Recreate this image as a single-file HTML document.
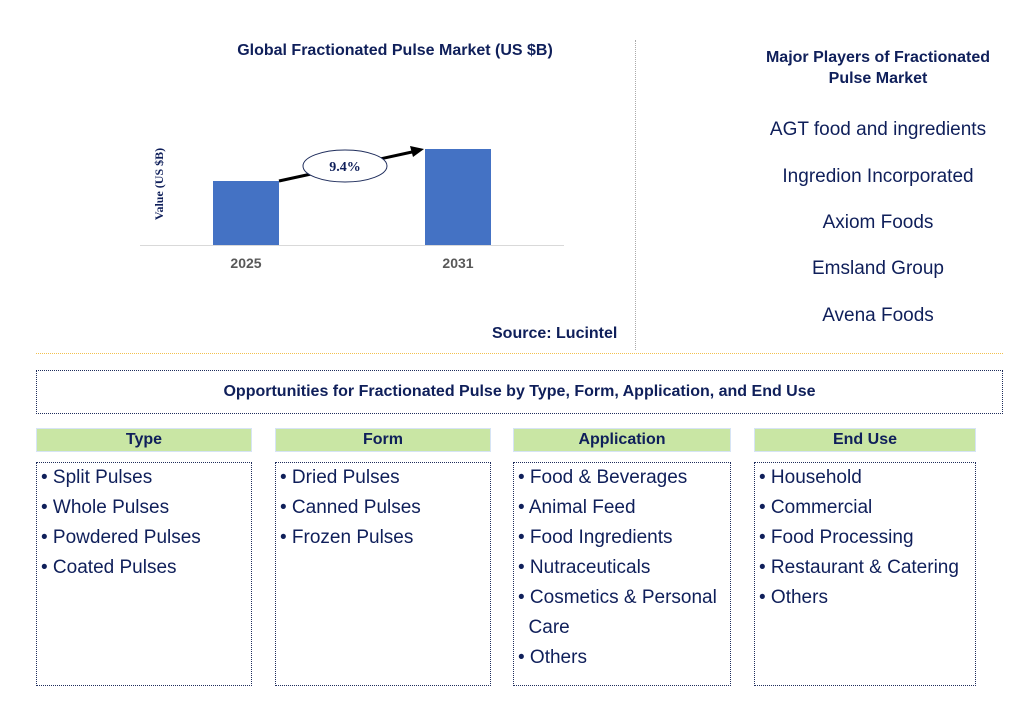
<!DOCTYPE html>
<html><head><meta charset="utf-8"><style>
body{margin:0;width:1027px;height:701px;background:#fff;font-family:"Liberation Sans",sans-serif;color:#1f2d5c;position:relative;overflow:hidden}
.a{position:absolute}
.t{font-weight:bold;color:#0f1f5a}
.pl{font-size:19px;color:#0f1f5a;text-align:center;width:260px;left:748px}
.hd{position:absolute;top:428px;height:22px;background:#c9e6a4;border:1px solid #d6e4f5;text-align:center;font-size:16px;font-weight:bold;color:#0f1f5a;line-height:22px}
.bx{position:absolute;top:462px;height:224px;border:1px dotted #1f2d5c;box-sizing:border-box;font-size:19px;color:#0f1f5a;padding:0 4px;line-height:30px}
</style></head><body>
<div class="a t" style="left:140px;top:42px;width:510px;text-align:center;font-size:16px">Global Fractionated Pulse Market (US $B)</div>
<svg class="a" style="left:0;top:0" width="640" height="300">
<line x1="140" y1="245.5" x2="564" y2="245.5" stroke="#d9d9d9"/>
<text x="0" y="0" transform="translate(163,184) rotate(-90)" text-anchor="middle" font-family="Liberation Serif" font-weight="bold" font-size="12" fill="#0f1f5a">Value (US $B)</text>
<g id="bars"></g>
<line x1="279" y1="181" x2="412" y2="152" stroke="#000" stroke-width="3"/>
<polygon points="424,149 410,146 413,157" fill="#000"/>
<ellipse cx="345" cy="166" rx="42" ry="16" fill="#fff" stroke="#1f2d5c"/>
<text x="345" y="171" text-anchor="middle" font-family="Liberation Serif" font-weight="bold" font-size="14" fill="#0f1f5a">9.4%</text>
</svg>
<script>
const categories=["2025","2031"];
const values=[1.0,1.5];
const g=document.getElementById('bars');
const ns="http://www.w3.org/2000/svg";
const xPos=i=>213+i*212, yScale=v=>245-v*64;
categories.forEach((c,i)=>{
 const r=document.createElementNS(ns,'rect');
 r.setAttribute('x',xPos(i));r.setAttribute('y',yScale(values[i]));r.setAttribute('width',66);r.setAttribute('height',245-yScale(values[i]));r.setAttribute('fill','#4472c4');
 
 
 g.appendChild(r);
 const t=document.createElementNS(ns,'text');
 t.setAttribute('x',xPos(i)+33);t.setAttribute('y',268);t.setAttribute('text-anchor','middle');t.setAttribute('font-size','14');t.setAttribute('font-weight','bold');t.setAttribute('fill','#595959');t.textContent=c;
 
 
 g.appendChild(t);
});
</script>
<div class="a t" style="left:492px;top:325px;font-size:16px">Source: Lucintel</div>
<div class="a" style="left:635px;top:40px;height:310px;border-left:1px dotted #aaa"></div>
<div class="a t" style="left:748px;top:47px;width:260px;text-align:center;font-size:16px;line-height:21px">Major Players of Fractionated<br>Pulse Market</div>
<div class="a pl" style="top:119px">AGT food and ingredients</div>
<div class="a pl" style="top:166px">Ingredion Incorporated</div>
<div class="a pl" style="top:212px">Axiom Foods</div>
<div class="a pl" style="top:258px">Emsland Group</div>
<div class="a pl" style="top:305px">Avena Foods</div>
<div class="a" style="left:36px;top:353px;width:967px;border-top:1px dotted #f2c14e"></div>
<div class="a t" style="left:36px;top:370px;width:967px;height:44px;border:1px dotted #1f2d5c;box-sizing:border-box;text-align:center;line-height:42px;font-size:16px">Opportunities for Fractionated Pulse by Type, Form, Application, and End Use</div>
<div class="hd" style="left:36px;width:214px">Type</div>
<div class="hd" style="left:275px;width:214px">Form</div>
<div class="hd" style="left:513px;width:216px">Application</div>
<div class="hd" style="left:754px;width:220px">End Use</div>
<div class="bx" style="left:36px;width:216px"><div>• Split Pulses</div><div>• Whole Pulses</div><div>• Powdered Pulses</div><div>• Coated Pulses</div></div>
<div class="bx" style="left:275px;width:216px"><div>• Dried Pulses</div><div>• Canned Pulses</div><div>• Frozen Pulses</div></div>
<div class="bx" style="left:513px;width:218px"><div>• Food &amp; Beverages</div><div>• Animal Feed</div><div>• Food Ingredients</div><div>• Nutraceuticals</div><div>• Cosmetics &amp; Personal<br>&nbsp;&nbsp;Care</div><div>• Others</div></div>
<div class="bx" style="left:754px;width:222px"><div>• Household</div><div>• Commercial</div><div>• Food Processing</div><div>• Restaurant &amp; Catering</div><div>• Others</div></div>
</body></html>
